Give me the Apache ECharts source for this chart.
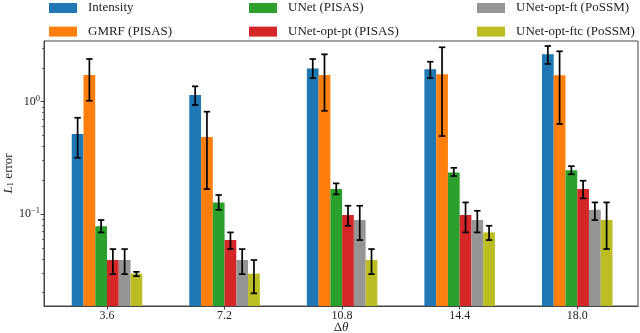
<!DOCTYPE html>
<html>
<head>
<meta charset="utf-8">
<script src="https://cdn.jsdelivr.net/npm/echarts@6/dist/echarts.min.js"></script>
<style>
  html, body { margin: 0; padding: 0; background: #fff; }
  #chart { width: 640px; height: 333px; }
</style>
</head>
<body>
<div id="chart"></div>
<script>
// categories (delta theta)
const categories = ["3.6", "7.2", "10.8", "14.4", "18.0"];
const seriesNames = ["Intensity", "GMRF (PISAS)", "UNet (PISAS)", "UNet-opt-pt (PISAS)", "UNet-opt-ft (PoSSM)", "UNet-opt-ftc (PoSSM)"];
const colors = ["#1f77b4", "#ff7f0e", "#2ca02c", "#d62728", "#959595", "#bcbd22"];

// mean L1 error per series (one value per category)
const intensity = [0.515, 1.15, 1.98, 1.94, 2.64];
const gmrf      = [1.73, 0.485, 1.73, 1.76, 1.72];
const unet      = [0.078, 0.127, 0.167, 0.235, 0.246];
const optPt     = [0.039, 0.0587, 0.098, 0.098, 0.167];
const optFt     = [0.039, 0.039, 0.0885, 0.0885, 0.109];
const optFtc    = [0.0295, 0.0295, 0.039, 0.0687, 0.0885];

// error bar low / high
const intensityLo = [0.317, 0.935, 1.62, 1.62, 2.17];
const intensityHi = [0.72, 1.37, 2.4, 2.27, 3.13];
const gmrfLo      = [1.02, 0.167, 0.83, 0.495, 0.633];
const gmrfHi      = [2.4, 0.815, 2.64, 3.05, 2.81];
const unetLo      = [0.0687, 0.109, 0.1497, 0.218, 0.226];
const unetHi      = [0.0885, 0.148, 0.1876, 0.258, 0.267];
const optPtLo     = [0.0292, 0.0488, 0.0787, 0.0687, 0.138];
const optPtHi     = [0.0488, 0.0687, 0.1186, 0.127, 0.198];
const optFtLo     = [0.0292, 0.0292, 0.0587, 0.0687, 0.0885];
const optFtHi     = [0.0488, 0.0488, 0.1186, 0.107, 0.127];
const optFtcLo    = [0.028, 0.0197, 0.0292, 0.0587, 0.0488];
const optFtcHi    = [0.0306, 0.039, 0.0488, 0.0787, 0.127];

const majorTicks = [0.1, 1];
const minorTicks = [0.02, 0.03, 0.04, 0.05, 0.06, 0.07, 0.08, 0.09, 0.2, 0.3, 0.4, 0.5, 0.6, 0.7, 0.8, 0.9, 2, 3];
const yMin = 0.0152, yMax = 3.47;
const xMin = -0.536, xMax = 4.517;

const means = [intensity, gmrf, unet, optPt, optFt, optFtc];
const lows = [intensityLo, gmrfLo, unetLo, optPtLo, optFtLo, optFtcLo];
const highs = [intensityHi, gmrfHi, unetHi, optPtHi, optFtHi, optFtcHi];

// log scale measured from the bottom of the axis, so bars grow from the axis floor
const lg = v => Math.log10(v / yMin);
const font = "Liberation Serif";
const nBars = seriesNames.length;
const catGap = 0.4;
const catIdx = categories.map((c, k) => k);

let series = [];
means.forEach((vals, i) => {
  series.push({
    name: seriesNames[i],
    type: "bar",
    data: vals.map((v, k) => [k, lg(v)]),
    itemStyle: { color: colors[i] },
    barGap: "0%",
    barCategoryGap: (catGap * 100) + "%",
    silent: true
  });
});
means.forEach((vals, i) => {
  series.push({
    type: "custom",
    z: 10,
    silent: true,
    data: vals.map((v, k) => [k, lg(lows[i][k]), lg(highs[i][k])]),
    encode: { x: 0, y: [1, 2] },
    renderItem: function (params, api) {
      let cat = api.value(0);
      let bandW = api.size([1, 0])[0];
      let barW = bandW * (1 - catGap) / nBars;
      let off = (i - (nBars - 1) / 2) * barW;
      let lo = api.coord([cat, api.value(1)]);
      let hi = api.coord([cat, api.value(2)]);
      let x = lo[0] + off;
      let cap = 3.2;
      let style = { stroke: "#000", lineWidth: 1.7 };
      return {
        type: "group",
        children: [
          { type: "line", shape: { x1: x, y1: lo[1], x2: x, y2: hi[1] }, style: style },
          { type: "line", shape: { x1: x - cap, y1: lo[1], x2: x + cap, y2: lo[1] }, style: style },
          { type: "line", shape: { x1: x - cap, y1: hi[1], x2: x + cap, y2: hi[1] }, style: style }
        ]
      };
    }
  });
});

function legendCol(left, names) {
  return {
    orient: "vertical",
    left: left,
    top: 1,
    padding: 0,
    itemWidth: 28,
    itemHeight: 10,
    itemGap: 9.6,
    icon: "rect",
    selectedMode: false,
    data: names,
    textStyle: { fontFamily: font, fontSize: 13, color: "#222", lineHeight: 14, padding: [0, 0, 0, 6] }
  };
}

let chart = echarts.init(document.getElementById("chart"));
chart.setOption({
  animation: false,
  textStyle: { fontFamily: font },
  color: colors,
  legend: [
    legendCol(49, [seriesNames[0], seriesNames[1]]),
    legendCol(249, [seriesNames[2], seriesNames[3]]),
    legendCol(477, [seriesNames[4], seriesNames[5]])
  ],
  grid: { left: 44, right: 2, top: 41, bottom: 27, show: true, borderColor: "#444", borderWidth: 1, outerBoundsMode: "none", containLabel: false },
  xAxis: {
    type: "value",
    min: xMin,
    max: xMax,
    splitLine: { show: false },
    name: "{n|Δ}{i|θ}",
    nameLocation: "middle",
    nameGap: 15,
    nameMoveOverlap: false,
    nameTextStyle: {
      rich: {
        n: { fontFamily: font, fontSize: 13, color: "#222" },
        i: { fontFamily: font, fontSize: 13, fontStyle: "italic", color: "#222" }
      }
    },
    axisLine: { onZero: false, lineStyle: { color: "#444", width: 1 } },
    axisTick: { length: 3.5, customValues: catIdx, lineStyle: { color: "#444" } },
    axisLabel: {
      customValues: catIdx,
      formatter: v => categories[Math.round(v)],
      fontFamily: font, fontSize: 12, color: "#222", margin: 4
    }
  },
  yAxis: [{
    type: "value",
    min: 0,
    max: lg(yMax),
    splitLine: { show: false },
    name: "{i|L}{s|1} error",
    nameLocation: "middle",
    nameRotate: 90,
    nameGap: 29,
    nameMoveOverlap: false,
    nameTextStyle: {
      fontFamily: font, fontSize: 13, color: "#222",
      rich: {
        i: { fontFamily: font, fontSize: 13, fontStyle: "italic", color: "#222" },
        s: { fontFamily: font, fontSize: 9, color: "#222", verticalAlign: "bottom", padding: [4, 0, 0, 0] }
      }
    },
    axisLine: { show: true, onZero: false, lineStyle: { color: "#444", width: 1 } },
    axisTick: { show: true, length: 3.5, customValues: majorTicks.map(lg), lineStyle: { color: "#444" } },
    axisLabel: {
      customValues: majorTicks.map(lg),
      margin: 4,
      formatter: function (v) {
        let e = Math.round(v + Math.log10(yMin));
        return "{b|10}{s|" + (e < 0 ? "−" + (-e) : e) + "}";
      },
      rich: {
        b: { fontFamily: font, fontSize: 12, color: "#222", lineHeight: 14 },
        s: { fontFamily: font, fontSize: 8.5, color: "#222", verticalAlign: "top", padding: [0, 0, 6, 0] }
      }
    }
  }, {
    type: "value",
    position: "left",
    min: 0,
    max: lg(yMax),
    splitLine: { show: false },
    axisLine: { show: false, onZero: false },
    axisTick: { show: true, length: 2, customValues: minorTicks.map(lg), lineStyle: { color: "#444", width: 0.8 } },
    axisLabel: { show: false, customValues: minorTicks.map(lg) }
  }],
  series: series
});
window.addEventListener("resize", function () {
  chart.resize();
});
</script>
</body>
</html>
